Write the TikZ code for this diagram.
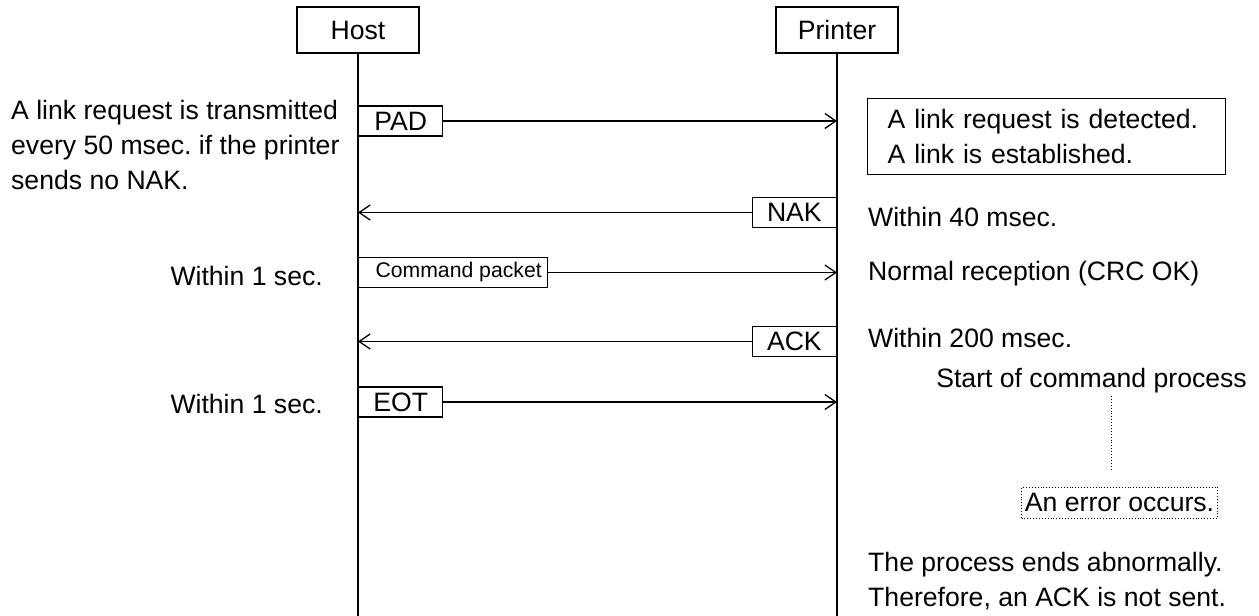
\documentclass[tikz,border=0pt]{standalone}
\usepackage{fontspec}
\setmainfont{Liberation Sans}
\usetikzlibrary{arrows.meta}
\frenchspacing
\tikzset{
  lw/.style={line width=1.3pt},
  actor/.style={draw, lw, minimum width=122pt, minimum height=46pt, inner sep=0pt},
  msg/.style={draw, lw, minimum width=84pt, minimum height=30pt, inner sep=0pt},
  arr/.style={lw, -{Straight Barb[length=11pt,width=15pt,line width=1.3pt]}},
  lbl/.style={inner sep=0pt},
  dotbox/.style={draw, dotted, line width=0.9pt, minimum height=31pt, minimum width=196pt, inner sep=0pt},
}
\begin{document}
\begin{tikzpicture}[x=1pt, y=-1pt, font=\fontsize{26.6}{35}\selectfont]
\useasboundingbox (0,0) rectangle (1259,616);
% actors
\node[actor] (host) at (358,30) {Host};
\node[actor] (printer) at (837,30) {Printer};
\coordinate (hostend) at (358,616);
\coordinate (printerend) at (837,616);
\draw[lw] (host.south) -- (hostend);
\draw[lw] (printer.south) -- (printerend);
% messages
\node[msg, anchor=west] (pad) at (358,121) {PAD};
\coordinate (padend) at (837,121);
\draw[arr] (pad.east) -- (padend);
\node[msg, anchor=east] (nak) at (837,212.5) {NAK};
\coordinate (nakend) at (358,212.5);
\draw[arr] (nak.west) -- (nakend);
\node[msg, anchor=west, minimum width=189pt, font=\fontsize{21.2}{26}\selectfont] (cmd) at (358,272.5) {\hspace*{11pt}Command packet};
\coordinate (cmdend) at (837,272.5);
\draw[arr] (cmd.east) -- (cmdend);
\node[msg, anchor=east] (ack) at (837,341.5) {ACK};
\coordinate (ackend) at (358,341.5);
\draw[arr] (ack.west) -- (ackend);
\node[msg, anchor=west] (eot) at (358,402) {EOT};
\coordinate (eotend) at (837,402);
\draw[arr] (eot.east) -- (eotend);
% left texts
\node[lbl, anchor=north west, align=left] (linkreq) at (11,99.7) {A link request is transmitted\\every 50 msec. if the printer\\sends no NAK.};
\node[lbl, anchor=base east] (w1a) at (323,285) {Within 1 sec.};
\node[lbl, anchor=base east] (w1b) at (323,413) {Within 1 sec.};
% right texts
\node[draw, lw, anchor=north west, text width=318pt, inner xsep=20pt, inner ysep=10.75pt, align=left] (linkbox) at (867,98) {A link request is detected.\\A link is established.};
\node[lbl, anchor=base west] (w40) at (868,226) {Within 40 msec.};
\node[lbl, anchor=base west] (normal) at (868,280) {Normal reception (CRC OK)};
\node[lbl, anchor=base west] (w200) at (868,347) {Within 200 msec.};
\node[lbl, anchor=base east] (start) at (1247,387) {Start of command process};
\coordinate (d1) at (1111,396);
\coordinate (d2) at (1111,470);
\draw[dotted, line width=0.9pt] (d1) -- (d2);
\node[dotbox, anchor=north east] (err) at (1218,487) {An error occurs.};
\node[lbl, anchor=base west] (ends) at (868,571) {The process ends abnormally.};
\node[lbl, anchor=base west] (notsent) at (868,606) {Therefore, an ACK is not sent.};
\end{tikzpicture}
\end{document}
